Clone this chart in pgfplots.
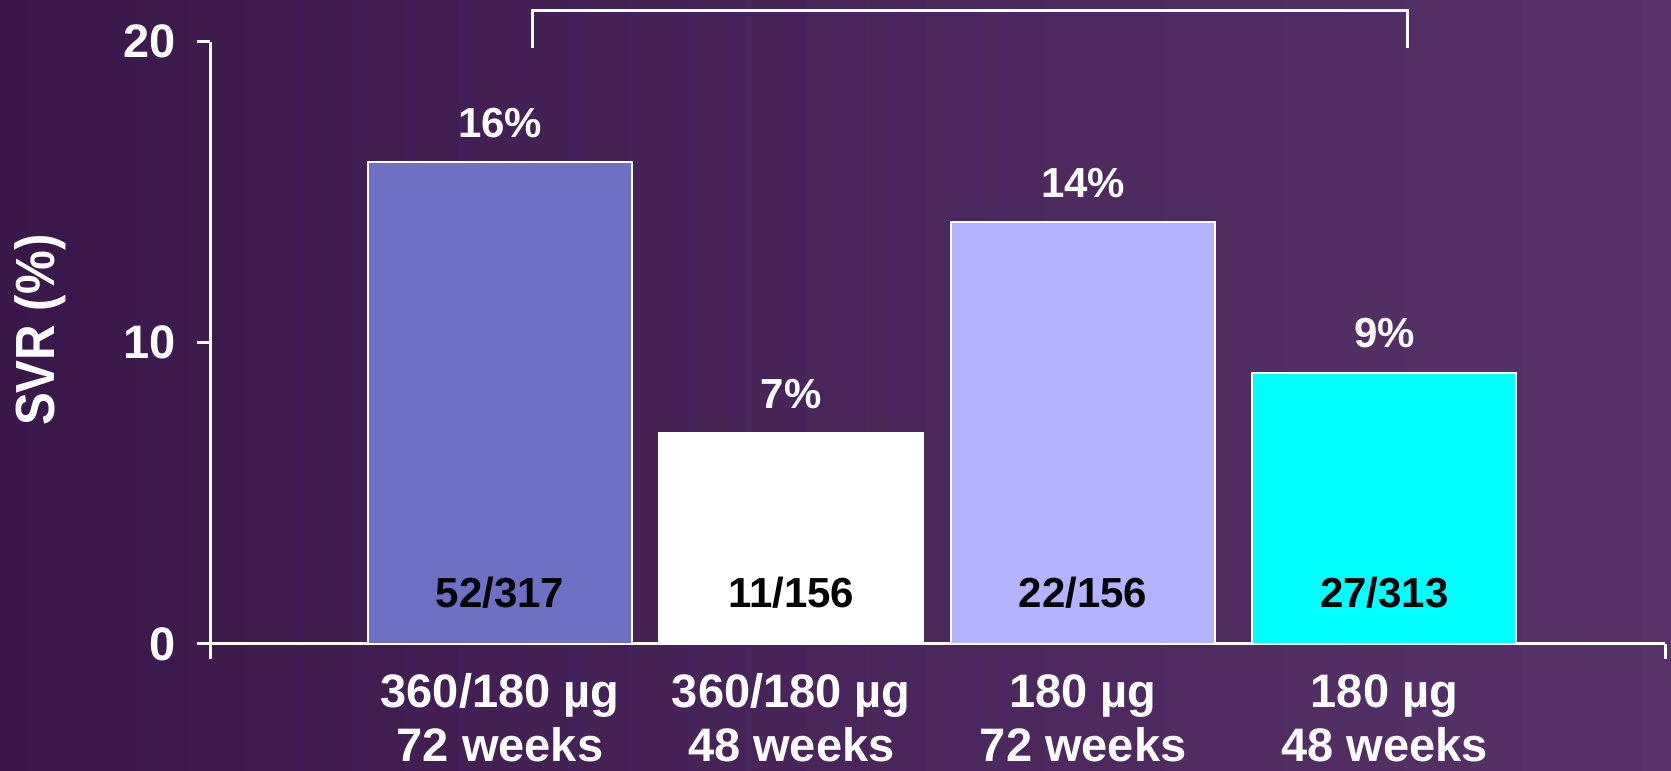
\documentclass[border=0pt]{standalone}
\usepackage{pgfplots}
\pgfplotsset{compat=1.18}
\usepackage{graphicx}
\usepackage{fontspec}
\setmainfont{Liberation Sans}
\definecolor{bgL}{HTML}{3A174B}
\definecolor{bgR}{HTML}{58336A}
\definecolor{barA}{HTML}{6E70C4}
\definecolor{barC}{HTML}{B3B3FF}
\definecolor{barD}{HTML}{00FFFF}
\begin{document}
\begin{tikzpicture}
\useasboundingbox (0,0) rectangle (835.5pt,385.5pt);
\shade[left color=bgL, right color=bgR] (0,0) rectangle (835.5pt,385.5pt);
\begin{axis}[
  at={(105pt,63.5pt)}, anchor=south west,
  scale only axis, width=727.5pt, height=301.2pt,
  xmin=-0.984, xmax=3.952, ymin=0, ymax=20,
  axis lines=left,
  axis line style={draw=white, line width=1.5pt, -},
  clip=false,
  ytick={0,10,20},
  xtick={0,0.988,1.978,3},
  xticklabels={{360/180 µg\\72 weeks},{360/180 µg\\48 weeks},{180 µg\\72 weeks},{180 µg\\48 weeks}},
  tick align=outside,
  major tick length=6.5pt,
  major y tick style={draw=white, line width=1.5pt},
  major x tick style={draw=none},
  /pgf/number format/assume math mode=true,
  yticklabel style={font=\fontsize{23.5}{26}\selectfont\bfseries, text=white, xshift=-7pt},
  xticklabel style={align=center, anchor=base, inner sep=0pt, yshift=-52pt, font=\fontsize{23.5}{27}\selectfont\bfseries, text=white},
  ylabel={\scalebox{1}[1.12]{SVR (\%)}},
  ylabel style={at={(axis description cs:-0.1168,0.521)}, anchor=center, font=\fontsize{24.6}{28}\selectfont\bfseries, text=white},
  every axis plot/.append style={ybar, bar width=0.8955, bar shift=0pt, draw=white, line width=1pt},
  nodes near coords={\pgfmathprintnumber{\pgfplotspointmeta}\%},
  every node near coord/.append style={anchor=base, yshift=12.5pt, font=\fontsize{21}{25}\selectfont\bfseries, text=white},
]
\addplot[fill=barA] coordinates {(0,16)};
\addplot[fill=white] coordinates {(0.988,7)};
\addplot[fill=barC] coordinates {(1.978,14)};
\addplot[fill=barD] coordinates {(3,9)};
\node[font=\fontsize{21}{25}\selectfont\bfseries, text=black] at (axis cs:0,1.71) {52/317};
\node[font=\fontsize{21}{25}\selectfont\bfseries, text=black] at (axis cs:0.988,1.71) {11/156};
\node[font=\fontsize{21}{25}\selectfont\bfseries, text=black] at (axis cs:1.978,1.71) {22/156};
\node[font=\fontsize{21}{25}\selectfont\bfseries, text=black] at (axis cs:3,1.71) {27/313};
\draw[white, line width=1.5pt] (axis cs:0.109,19.79) -- (axis cs:0.109,21.03) -- (axis cs:3.077,21.03) -- (axis cs:3.077,19.79);
\draw[white, line width=1.5pt] (axis cs:-0.984,0) -- ([yshift=-7.5pt]axis cs:-0.984,0);
\draw[white, line width=1.5pt] (axis cs:3.952,0) -- ([yshift=-7.5pt]axis cs:3.952,0);
\end{axis}
\end{tikzpicture}
\end{document}
